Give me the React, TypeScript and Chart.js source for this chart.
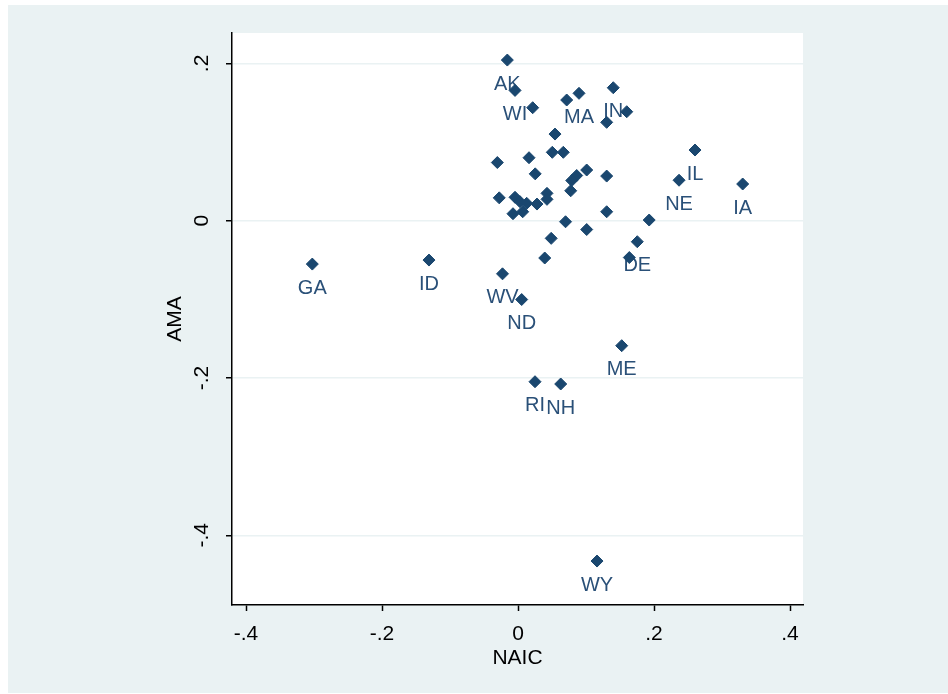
import React, { useEffect, useRef } from "react";
import { Chart, registerables } from "chart.js";

Chart.register(...registerables);

// ---- data ----
const stateLabels: string[] = [
  "AK", "WI", "", "", "MA", "IN", "", "", "", "", "", "", "", "", "", "", "", "", "", "",
  "", "", "", "", "", "", "", "", "", "", "", "", "", "DE", "", "", "WV", "IL", "NE", "IA",
  "GA", "ID", "ND", "ME", "RI", "NH", "WY",
];
const naic: number[] = [
  -0.0157, -0.0044, 0.0216, 0.0716, 0.0897, 0.1401, 0.1599, 0.1304, 0.0544, 0.0504,
  0.0666, 0.0162, -0.0304, 0.0253, 0.101, 0.0863, 0.079, 0.1304, 0.0775, -0.0276,
  -0.0044, 0.0029, 0.0128, -0.0074, 0.0069, 0.0279, 0.0426, 0.0426, 0.1304, 0.0699,
  0.1929, 0.101, 0.0488, 0.1754, 0.1637, 0.0393, -0.0228, 0.2603, 0.2368, 0.3304,
  -0.3025, -0.1309, 0.0054, 0.1525, 0.025, 0.0628, 0.1162,
];
const ama: number[] = [
  0.2043, 0.1657, 0.1437, 0.1535, 0.162, 0.1691, 0.1386, 0.1251, 0.1102, 0.087,
  0.087, 0.0801, 0.074, 0.0596, 0.0645, 0.0575, 0.0511, 0.0568, 0.0381, 0.0291,
  0.0298, 0.0242, 0.0221, 0.0089, 0.0114, 0.0212, 0.0348, 0.0272, 0.0114, -0.0013,
  0.0009, -0.0112, -0.0224, -0.0267, -0.0468, -0.0474, -0.0675, 0.0899, 0.0515, 0.0467,
  -0.0551, -0.05, -0.1002, -0.1589, -0.2047, -0.2076, -0.4327,
];
const xTicks: number[] = [-0.4, -0.2, 0, 0.2, 0.4];
const yTicks: number[] = [-0.4, -0.2, 0, 0.2];
const xRange: number[] = [-0.4206, 0.4191];
const yRange: number[] = [-0.4886, 0.2387];
const xTitle = "NAIC";
const yTitle = "AMA";

// ---- styles ----
const BG = "#eaf2f3";
const NAVY = "#1a476f";
const FONT = '"Liberation Sans", Arial, sans-serif';

function fmt(v: number): string {
  if (Math.abs(v) < 1e-9) return "0";
  const s = String(Math.round(v * 10) / 10);
  return s.replace(/^(-?)0\./, "$1.");
}

const stataPlugin = {
  id: "stataLook",
  beforeDraw(chart: any) {
    const ctx = chart.ctx;
    const a = chart.chartArea;
    ctx.save();
    ctx.fillStyle = "#ffffff";
    ctx.fillRect(0, 0, chart.width, chart.height);
    ctx.fillStyle = BG;
    ctx.fillRect(8, 5, chart.width - 8, chart.height - 6);
    ctx.fillStyle = "#ffffff";
    ctx.fillRect(a.left, a.top, a.right - a.left, a.bottom - a.top);
    ctx.restore();
  },
  beforeDatasetsDraw(chart: any) {
    const ctx = chart.ctx;
    const meta = chart.getDatasetMeta(0);
    ctx.save();
    ctx.font = `20px ${FONT}`;
    ctx.fillStyle = "#2a5078";
    ctx.textAlign = "center";
    ctx.textBaseline = "middle";
    meta.data.forEach((el: any, i: number) => {
      const lab = stateLabels[i];
      if (lab) ctx.fillText(lab, el.x, el.y + 24);
    });
    ctx.restore();
  },
  afterDraw(chart: any) {
    const ctx = chart.ctx;
    const a = chart.chartArea;
    const xs = chart.scales.x;
    const ys = chart.scales.y;
    ctx.save();
    ctx.fillStyle = "#000000";
    ctx.textAlign = "center";
    ctx.textBaseline = "middle";
    ctx.font = `21px ${FONT}`;
    xs.ticks.forEach((t: any) => {
      ctx.fillText(fmt(t.value), xs.getPixelForValue(t.value), a.bottom + 29);
    });
    ys.ticks.forEach((t: any) => {
      ctx.save();
      ctx.translate(a.left - 30, ys.getPixelForValue(t.value));
      ctx.rotate(-Math.PI / 2);
      ctx.fillText(fmt(t.value), 0, 0);
      ctx.restore();
    });
    ctx.font = `21px ${FONT}`;
    ctx.fillText(xTitle, (a.left + a.right) / 2, a.bottom + 53);
    ctx.save();
    ctx.translate(a.left - 57, (a.top + a.bottom) / 2);
    ctx.rotate(-Math.PI / 2);
    ctx.fillText(yTitle, 0, 0);
    ctx.restore();
    ctx.restore();
  },
};

export default function App() {
  const ref = useRef<HTMLCanvasElement | null>(null);
  useEffect(() => {
    if (!ref.current) return;
    const points = naic.map((x, i) => ({ x, y: ama[i] }));
    const chart = new Chart(ref.current, {
      type: "scatter",
      data: {
        datasets: [
          {
            data: points,
            pointStyle: "rectRot",
            pointRadius: 6,
            pointBorderWidth: 1,
            backgroundColor: NAVY,
            borderColor: NAVY,
          },
        ],
      },
      options: {
        animation: false,
        responsive: false,
        devicePixelRatio: 1,
        layout: { padding: { left: 0, top: 33, right: 145, bottom: 0 } },
        plugins: {
          legend: { display: false },
          tooltip: { enabled: false },
          title: { display: false },
        },
        scales: {
          x: {
            type: "linear",
            min: xRange[0],
            max: xRange[1],
            afterBuildTicks: (s: any) => {
              s.ticks = xTicks.map((v) => ({ value: v }));
            },
            afterFit: (s: any) => {
              s.height = 89;
            },
            ticks: { display: false },
            grid: {
              drawOnChartArea: false,
              drawTicks: true,
              tickLength: 6,
              tickColor: "#000000",
              tickWidth: 1.5,
            },
            border: { display: true, color: "#000000", width: 1.5 },
          },
          y: {
            type: "linear",
            min: yRange[0],
            max: yRange[1],
            afterBuildTicks: (s: any) => {
              s.ticks = yTicks.map((v) => ({ value: v }));
            },
            afterFit: (s: any) => {
              s.width = 232;
            },
            ticks: { display: false },
            grid: {
              drawOnChartArea: true,
              color: BG,
              lineWidth: 1.5,
              drawTicks: true,
              tickLength: 6,
              tickColor: "#000000",
              tickWidth: 1.5,
            },
            border: { display: true, color: "#000000", width: 1.5 },
          },
        },
      },
      plugins: [stataPlugin],
    } as any);
    return () => chart.destroy();
  }, []);

  return (
    <div
      style={{
        position: "fixed",
        left: 0,
        top: 0,
        width: 948,
        height: 694,
        background: "#ffffff",
        overflow: "hidden",
      }}
    >
      <canvas ref={ref} width={948} height={694} style={{ display: "block", width: 948, height: 694 }} />
    </div>
  );
}
